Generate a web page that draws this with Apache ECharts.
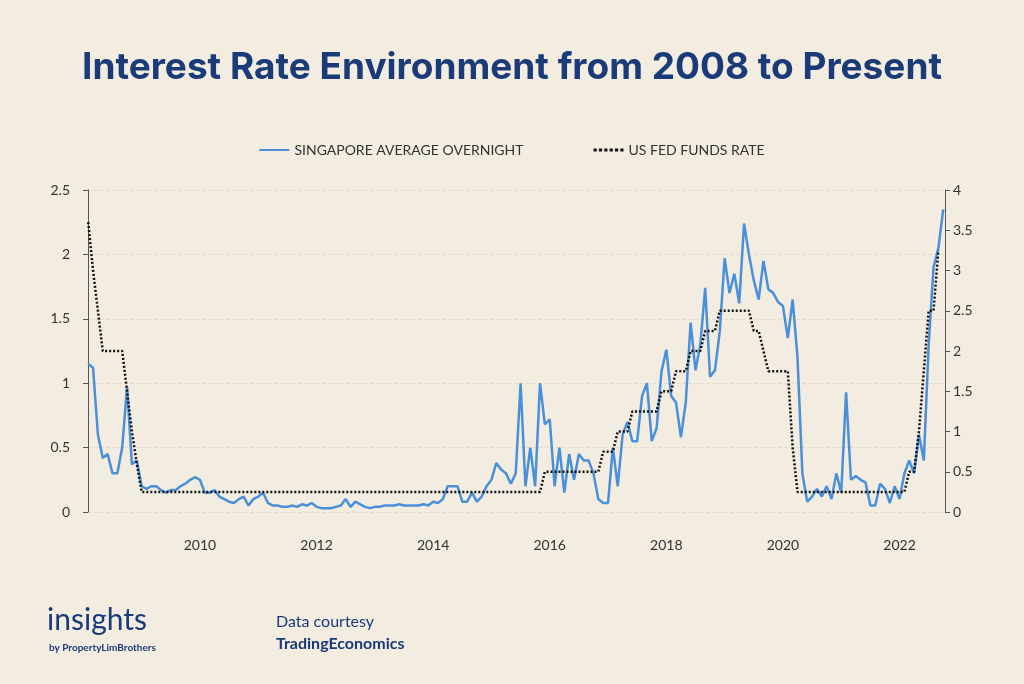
<!DOCTYPE html>
<html><head><meta charset="utf-8">
<script src="https://cdn.jsdelivr.net/npm/echarts@6/dist/echarts.min.js"></script>
<style>html,body{margin:0;padding:0;background:#f2ece1;}#c{width:1024px;height:684px;}</style>
</head><body><div id="c"></div>
<script>
const sgStart = [2008, 2]; // first month of Singapore series
const sgValues = [
 1.15,1.12,0.6,0.42,0.45,0.3,0.3,0.5,0.97,0.37,0.4,
 0.2,0.18,0.2,0.2,0.17,0.15,0.17,0.17,0.2,0.22,0.25,0.27,
 0.25,0.15,0.15,0.17,0.12,0.1,0.08,0.07,0.1,0.12,0.05,0.1,
 0.12,0.15,0.07,0.05,0.05,0.04,0.04,0.05,0.04,0.06,0.05,0.07,
 0.04,0.03,0.03,0.03,0.04,0.05,0.1,0.04,0.08,0.06,0.04,0.03,
 0.04,0.04,0.05,0.05,0.05,0.06,0.05,0.05,0.05,0.05,0.06,0.05,
 0.08,0.07,0.1,0.2,0.2,0.2,0.08,0.08,0.15,0.08,0.12,0.2,
 0.25,0.38,0.33,0.3,0.22,0.3,1.0,0.2,0.5,0.2,1.0,0.68,
 0.72,0.2,0.5,0.15,0.45,0.25,0.45,0.4,0.4,0.3,0.1,0.07,
 0.07,0.5,0.2,0.6,0.7,0.55,0.55,0.9,1.0,0.55,0.65,
 1.09,1.26,0.9,0.85,0.58,0.85,1.47,1.1,1.3,1.74,1.05,1.1,
 1.4,1.97,1.7,1.85,1.62,2.24,2.0,1.8,1.65,1.95,1.73,1.7,
 1.63,1.6,1.35,1.65,1.2,0.3,0.08,0.12,0.18,0.12,0.2,0.1,
 0.3,0.15,0.93,0.25,0.28,0.25,0.23,0.05,0.05,0.22,0.18,0.07,
 0.2,0.1,0.3,0.4,0.3,0.6,0.4,1.3,1.9,2.05,2.35
];
const fedDates = ['2008-02','2008-03','2008-04','2008-05','2008-09','2008-10','2008-11','2008-12','2009-01',
 '2015-11','2015-12','2016-11','2016-12','2017-02','2017-03','2017-05','2017-06','2017-11','2017-12',
 '2018-02','2018-03','2018-05','2018-06','2018-08','2018-09','2018-11','2018-12','2019-06','2019-07','2019-08',
 '2019-09','2019-10','2020-02','2020-03','2020-04','2022-02','2022-03','2022-04','2022-05','2022-06','2022-07','2022-08','2022-09'];
const fedValues = [3.6,3.0,2.5,2.0,2.0,1.5,1.0,0.6,0.25,
 0.25,0.5,0.5,0.75,0.75,1.0,1.0,1.25,1.25,1.5,
 1.5,1.75,1.75,2.0,2.0,2.25,2.25,2.5,2.5,2.25,2.25,
 2.0,1.75,1.75,0.8,0.25,0.25,0.5,0.5,1.0,1.75,2.5,2.5,3.25];
const yearTicks = [2010,2012,2014,2016,2018,2020,2022];

const toYear = s => { const [y,m] = s.split('-').map(Number); return y + (m-1)/12; };
const sgData = sgValues.map((v,i) => [sgStart[0] + (sgStart[1]-1+i)/12, v]);
const fedData = fedDates.map((d,i) => [toYear(d), fedValues[i]]);

const FONT = 'Lato, "Open Sans", sans-serif';
const chart = echarts.init(document.getElementById('c'));
chart.setOption({
  backgroundColor:'#f2ece1',
  textStyle:{fontFamily:FONT},
  title:[
    {text:'Interest Rate Environment from 2008 to Present',left:'center',top:44,
     textStyle:{fontFamily:'Inter, Lato, sans-serif',fontWeight:'bold',fontSize:37,color:'#1b3a78'}},
    {text:'insights',left:42,top:600,textStyle:{fontFamily:FONT,fontSize:30,fontWeight:'normal',color:'#1b3a78'}},
    {text:'by PropertyLimBrothers',left:44,top:638,textStyle:{fontFamily:FONT,fontSize:10,color:'#1b3a78'}},
    {text:'Data courtesy',left:271,top:609,textStyle:{fontFamily:FONT,fontSize:16,fontWeight:'normal',color:'#1b3a78'}},
    {text:'TradingEconomics',left:271,top:631,textStyle:{fontFamily:FONT,fontSize:16,fontWeight:'bold',color:'#1b3a78'}}
  ],
  legend:{top:138,left:'center',itemGap:70,itemWidth:30,icon:'path://M0,0 L30,0 L30,2 L0,2 Z',
    textStyle:{fontFamily:FONT,fontSize:14,color:'#333'},
    data:[{name:'SINGAPORE AVERAGE OVERNIGHT',itemStyle:{color:'#4a90d9'}},
          {name:'US FED FUNDS RATE',icon:'path://M0,0 L3,0 L3,3 L0,3 Z M5,0 L8,0 L8,3 L5,3 Z M10,0 L13,0 L13,3 L10,3 Z M15,0 L18,0 L18,3 L15,3 Z M20,0 L23,0 L23,3 L20,3 Z M25,0 L28,0 L28,3 L25,3 Z',itemStyle:{color:'#111'}}]},
  grid:{left:88,right:79,top:190,bottom:172},
  xAxis:{type:'value',min:2008.08,max:2022.78,
    axisLine:{show:false},axisTick:{show:false},splitLine:{show:false},
    axisLabel:{customValues:yearTicks,formatter:v=>String(Math.round(v)),margin:26,fontSize:14,color:'#333',fontFamily:FONT}},
  yAxis:[
    {type:'value',min:0,max:2.5,interval:0.5,
     axisLabel:{margin:18,fontSize:14,color:'#333',fontFamily:FONT},
     splitLine:{lineStyle:{color:'#e4ddd0',type:'dashed'}}},
    {type:'value',min:0,max:4,interval:0.5,position:'right',
     axisLabel:{margin:8,fontSize:14,color:'#333',fontFamily:FONT},
     splitLine:{show:false}}
  ],
  series:[
    {name:'SINGAPORE AVERAGE OVERNIGHT',type:'line',yAxisIndex:0,data:sgData,showSymbol:false,
     lineStyle:{color:'#4a90d9',width:2.5},itemStyle:{color:'#4a90d9'}},
    {name:'US FED FUNDS RATE',type:'line',yAxisIndex:1,data:fedData,showSymbol:false,
     lineStyle:{color:'#111',width:2.5,type:[2,2]},itemStyle:{color:'#111'}}
  ]
});
</script></body></html>
